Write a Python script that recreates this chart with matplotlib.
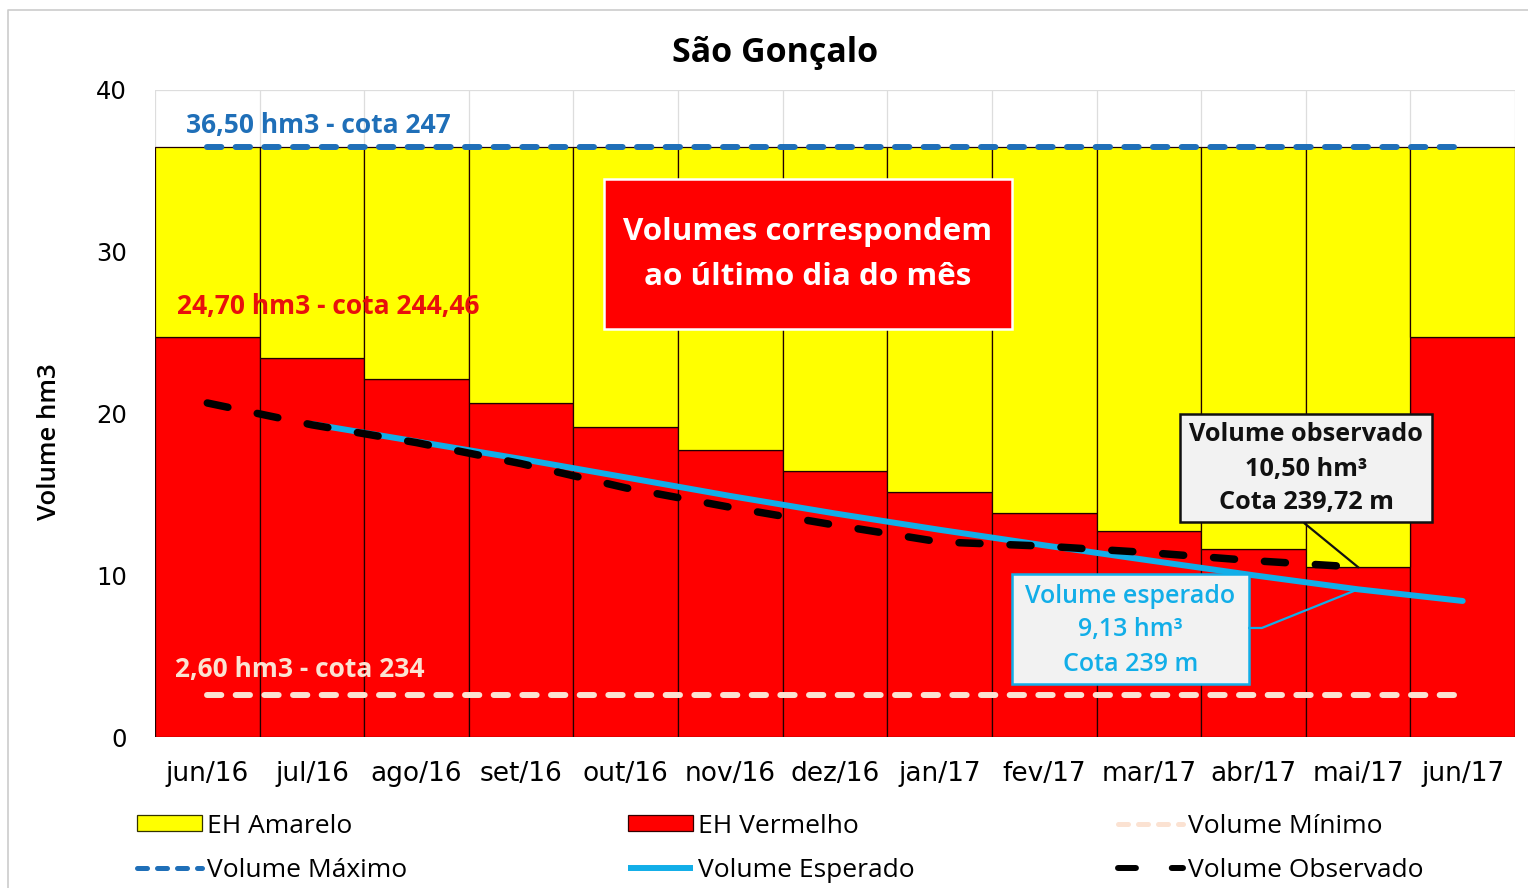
import matplotlib
matplotlib.use('Agg')
import matplotlib.pyplot as plt
from matplotlib.patches import Rectangle, Patch
from matplotlib.lines import Line2D
import numpy as np

# ---------------- data ----------------
months = ['jun/16', 'jul/16', 'ago/16', 'set/16', 'out/16', 'nov/16', 'dez/16',
          'jan/17', 'fev/17', 'mar/17', 'abr/17', 'mai/17', 'jun/17']
eh_vermelho = [24.70, 23.43, 22.13, 20.65, 19.17, 17.74, 16.44,
               15.15, 13.85, 12.74, 11.62, 10.50, 24.70]
eh_amarelo = [11.80, 13.07, 14.37, 15.85, 17.33, 18.76, 20.06,
              21.35, 22.65, 23.76, 24.88, 26.00, 11.80]
volume_maximo = [36.50, 36.50, 36.50, 36.50, 36.50, 36.50, 36.50,
                 36.50, 36.50, 36.50, 36.50, 36.50, 36.50]
volume_minimo = [2.60, 2.60, 2.60, 2.60, 2.60, 2.60, 2.60,
                 2.60, 2.60, 2.60, 2.60, 2.60, 2.60]
volume_esperado = [np.nan, 19.35, 18.27, 17.19, 16.05, 14.90, 13.82,
                   12.81, 11.85, 10.92, 10.00, 9.13, 8.41]
volume_observado = [20.65, 19.30, 18.20, 16.90, 15.40, 14.20, 13.10,
                    12.06, 11.80, 11.40, 10.90, 10.50]
y_ticks = [0, 10, 20, 30, 40]

# ---------------- style ----------------
FONT = ['Open Sans', 'DejaVu Sans']
plt.rcParams['font.family'] = FONT
C_YEL = '#FFFF00'
C_RED = '#FF0000'
C_MAX = '#1F6FB8'
C_MIN = '#FBE2D2'
C_ESP = '#12AEE8'
C_OBS = '#000000'

W, H = 1528, 888
fig = plt.figure(figsize=(W / 100, H / 100), dpi=100)
ax = fig.add_axes([155 / W, 1 - 737 / H, (1515 - 155) / W, (737 - 90) / H])

x = np.arange(len(months))
ax.bar(x, eh_vermelho, width=1.0, color=C_RED, edgecolor='#200000',
       linewidth=0.9, zorder=2)
ax.bar(x, eh_amarelo, bottom=eh_vermelho, width=1.0, color=C_YEL,
       edgecolor='#200000', linewidth=0.9, zorder=2)

lmax, = ax.plot(x, volume_maximo, color=C_MAX, lw=4.3, zorder=4,
                dash_capstyle='round')
lmax.set_dashes((2.4, 2.4))
lmin, = ax.plot(x, volume_minimo, color=C_MIN, lw=4.3, zorder=4,
                dash_capstyle='round')
lmin.set_dashes((2.4, 2.4))
lesp, = ax.plot(x, volume_esperado, color=C_ESP, lw=4.3, zorder=5,
                solid_capstyle='round')
lobs, = ax.plot(x[:len(volume_observado)], volume_observado, color=C_OBS,
                lw=5.4, zorder=6, dash_capstyle='round')
lobs.set_dashes((2.8, 4.0))

ax.set_xlim(-0.5, len(months) - 0.5)
ax.set_ylim(0, 40)
ax.set_yticks(y_ticks)
ax.set_yticklabels([str(v) for v in y_ticks], family='DejaVu Sans', fontsize=17.5)
ax.set_xticks(x)
ax.set_xticklabels(months, family='DejaVu Sans', fontsize=19)
ax.tick_params(axis='both', length=0)
ax.tick_params(axis='y', pad=20)
ax.tick_params(axis='x', pad=17)
ax.set_xticks(np.arange(-0.5, len(months), 1.0), minor=True)
ax.tick_params(axis='x', which='minor', length=0)
ax.grid(True, which='minor', axis='x', color='#DDDDDD', lw=0.9)
ax.grid(True, which='major', axis='y', color='#DDDDDD', lw=0.9)
ax.set_axisbelow(True)
for s in ax.spines.values():
    s.set_visible(False)

# reference labels
ax.text(-0.2, 37.8, '36,50 hm3 - cota 247', color=C_MAX, fontsize=19,
        fontweight='bold', ha='left', va='center', zorder=7)
ax.text(-0.29, 26.6, '24,70 hm3 - cota 244,46', color='#E8100C', fontsize=19,
        fontweight='bold', ha='left', va='center', zorder=7)
ax.text(-0.31, 4.15, '2,60 hm3 - cota 234', color=C_MIN, fontsize=19,
        fontweight='bold', ha='left', va='center', zorder=7)

# note box
ax.add_patch(Rectangle((0.330, 0.6306), 0.300, 0.2318, transform=ax.transAxes,
                       facecolor=C_RED, edgecolor='white', lw=1.8, zorder=7))
ax.text(0.480, 0.7805, 'Volumes correspondem', transform=ax.transAxes,
        color='white', fontsize=22.6, fontweight='bold', ha='center', va='center', zorder=8)
ax.text(0.480, 0.711, 'ao último dia do mês', transform=ax.transAxes,
        color='white', fontsize=22.6, fontweight='bold', ha='center', va='center', zorder=8)

# observed callout
ax.add_patch(Rectangle((0.7537, 0.3323), 0.1853, 0.1669, transform=ax.transAxes,
                       facecolor='#F2F2F2', edgecolor='#111111', lw=1.8, zorder=7))
for yy, t in zip([0.4668, 0.4142, 0.3617],
                 ['Volume observado', '10,50 hm³', 'Cota 239,72 m']):
    ax.text(0.8463, yy, t, transform=ax.transAxes, color='#111111', fontsize=18.2,
            fontweight='bold', ha='center', va='center', zorder=8)
ax.plot([10.49, 11.0], [13.2, volume_observado[11]], color='#111111', lw=1.6, zorder=7)

# expected callout
ax.add_patch(Rectangle((0.630, 0.0819), 0.1744, 0.1700, transform=ax.transAxes,
                       facecolor='#F2F2F2', edgecolor=C_ESP, lw=1.8, zorder=7))
for yy, t in zip([0.2179, 0.1654, 0.1128],
                 ['Volume esperado', '9,13 hm³', 'Cota 239 m']):
    ax.text(0.7173, yy, t, transform=ax.transAxes, color=C_ESP, fontsize=18,
            fontweight='semibold', ha='center', va='center', zorder=8)
ax.plot([9.96, 10.08, 11.0], [6.74, 6.74, volume_esperado[11]], color=C_ESP,
        lw=1.6, zorder=7)

# title and axis label
fig.text(775 / W, 1 - 53 / H, 'São Gonçalo', fontsize=24.5, fontweight='bold',
         ha='center', va='center')
fig.text(50 / W, 1 - 442 / H, 'Volume hm3', fontsize=18.5, fontweight='semibold',
         rotation=90, ha='center', va='center')

# legend (three columns)
def mk_line(color, lw, dashes, cap='round'):
    l = Line2D([], [], color=color, lw=lw, dash_capstyle=cap, solid_capstyle='butt')
    if dashes is not None:
        l.set_dashes(dashes)
    return l

h_yel = Patch(facecolor=C_YEL, edgecolor='#333300', lw=0.9)
h_red = Patch(facecolor=C_RED, edgecolor='#330000', lw=0.9)
h_min = mk_line(C_MIN, 3.6, (2.0, 2.0))
h_max = mk_line(C_MAX, 3.6, (2.0, 2.0))
h_esp = mk_line(C_ESP, 4.3, None)
h_obs = mk_line(C_OBS, 4.3, (3.0, 6.0))

common = dict(frameon=False, fontsize=19, handlelength=2.45, handleheight=0.55,
              handletextpad=0.2, labelspacing=0.72, borderpad=0, borderaxespad=0,
              loc='center left')
ycen = 1 - 848 / H
for xx, hs, ls in [(137, [h_yel, h_max], ['EH Amarelo', 'Volume Máximo']),
                   (628, [h_red, h_esp], ['EH Vermelho', 'Volume Esperado']),
                   (1118, [h_min, h_obs], ['Volume Mínimo', 'Volume Observado'])]:
    fig.legend(hs, ls, bbox_to_anchor=(xx / W, ycen), **common)

# outer frame
fig.add_artist(Line2D([8 / W, 8 / W, 1.0], [0.0, 1 - 10 / H, 1 - 10 / H],
                      transform=fig.transFigure, color='#CCCCCC', lw=1.2))

fig.savefig('out.png', dpi=100)
